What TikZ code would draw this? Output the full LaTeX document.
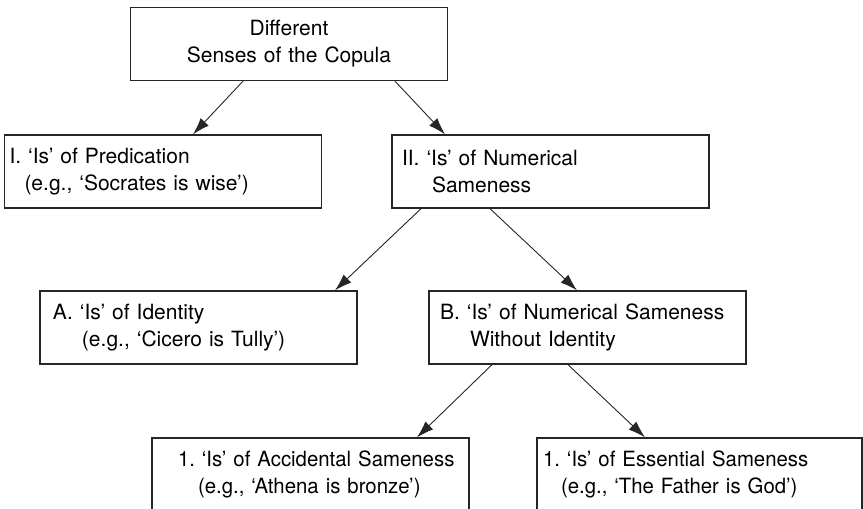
\documentclass[tikz,border=0pt]{standalone}
\usepackage{fontspec}
\setmainfont{TeX Gyre Heros}
\newfontfamily\narrowfont[FakeStretch = 0.97]{TeX Gyre Heros}
\frenchspacing
\usetikzlibrary{arrows.meta}
\tikzset{
	box/.style = {draw = black!85, line width = 1.3pt, minimum height = 73pt, text width = 307pt, inner xsep = 5pt, align = left, font = \fontsize{21}{27}\selectfont},
	narrowbox/.style = {box, font = \narrowfont\fontsize{21}{27}\selectfont},
	link/.style = {-{Latex[length = 17pt, width = 11pt]}, line width = .9pt, draw = black!85}
}
\begin{document}
\begin{tikzpicture}[x = 1pt, y = -1pt]
				\clip (0,0) rectangle (863,509);
				\node[box, align = center] (cop) at (289,44) {Different\\Senses of the Copula};
				\node[box] (pred) at (163,171.5) {I. ‘Is’ of Predication\\\hspace*{15pt}(e.g., ‘Socrates is wise’)};
				\node[box] (num) at (550.5,171.5) {\hspace*{5pt}II. ‘Is’ of Numerical\\\hspace*{35pt}Sameness};
				\node[box] (ident) at (198.5,327.5) {\hspace*{8pt}A. ‘Is’ of Identity\\\hspace*{37pt}(e.g., ‘Cicero is Tully’)};
				\node[box] (nowi) at (587.5,327.5) {\hspace*{6pt}B. ‘Is’ of Numerical Sameness\\\hspace*{36pt}Without Identity};
				\node[narrowbox] (acc) at (310.5,474.5) {\mbox{\hspace*{21pt}1. ‘Is’ of Accidental Sameness}\\\hspace*{41pt}(e.g., ‘Athena is bronze’)};
				\node[narrowbox, text width = 315pt] (ess) at (699.5,474.5) {\hspace*{1pt}1. ‘Is’ of Essential Sameness\\\hspace*{19pt}(e.g., ‘The Father is God’)};
				\draw[link] ([xshift = -46]cop.south) -- ([xshift = 30]pred.north);
				\draw[link] ([xshift = 106]cop.south) -- ([xshift = -105.5]num.north);
				\draw[link] ([xshift = -129.5]num.south) -- ([xshift = 136.5]ident.north);
				\draw[link] ([xshift = -60.5]num.south) -- ([xshift = -10.5]nowi.north);
				\draw[link] ([xshift = -95.5]nowi.south) -- ([xshift = 106.5]acc.north);
				\draw[link] ([xshift = -19.5]nowi.south) -- ([xshift = -54.5]ess.north);
\end{tikzpicture}
\end{document}
